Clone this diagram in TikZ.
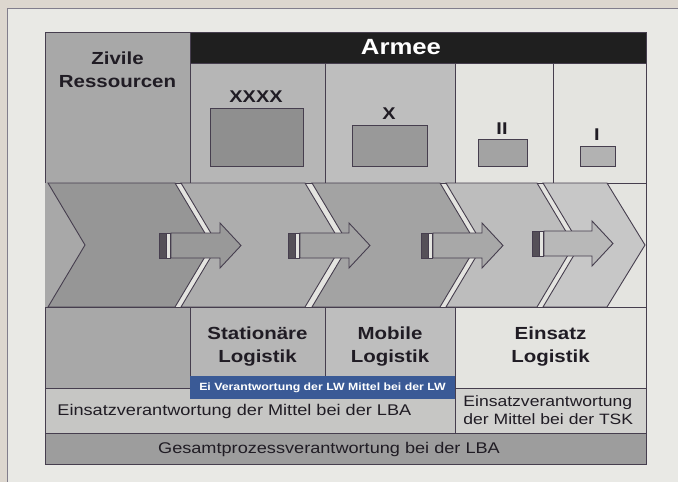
\documentclass[tikz,border=0pt]{standalone}
\usepackage{fontspec}
\setmainfont{Liberation Sans}[FakeStretch=1.17]
\definecolor{paper}{RGB}{221, 215, 207}
\definecolor{panel}{RGB}{233, 233, 229}
\definecolor{framegray}{RGB}{130, 126, 140}
\definecolor{edge}{RGB}{70, 62, 78}
\definecolor{ink}{RGB}{32, 28, 36}
\definecolor{civgray}{RGB}{168, 168, 168}
\definecolor{corpsgray}{RGB}{182, 182, 182}
\definecolor{brigray}{RGB}{190, 190, 190}
\definecolor{lightcol}{RGB}{228, 228, 224}
\definecolor{bandblue}{RGB}{58, 90, 150}
\definecolor{lbagray}{RGB}{198, 198, 196}
\definecolor{tskgray}{RGB}{210, 210, 207}
\definecolor{gesgray}{RGB}{157, 157, 157}
\definecolor{tailgray}{RGB}{85, 80, 88}
\usetikzlibrary{calc}

\begin{document}
\begin{tikzpicture}[x=1pt, y=-1pt, line width=0.9pt]
  \useasboundingbox (0,0) rectangle (678,482);

  % Page and panel
  \fill[paper] (0,0) rectangle (678,482);
  \fill[panel] (7,8) rectangle (678,482);
  \draw[framegray, line width=1pt] (678,8) -- (7,8) -- (7,482);

  % Top columns
  \filldraw[fill=civgray, draw=edge] (45,32) rectangle (190,183);
  \filldraw[fill=black!88, draw=edge] (190,32) rectangle (646,63);
  \filldraw[fill=corpsgray, draw=edge] (190,63) rectangle (325,183);
  \filldraw[fill=brigray, draw=edge] (325,63) rectangle (455,183);
  \filldraw[fill=lightcol, draw=edge] (455,63) rectangle (553,183);
  \filldraw[fill=lightcol, draw=edge] (553,63) rectangle (646,183);

  \node[font=\fontsize{22}{24}\selectfont\bfseries, text=white] (armee) at (401,47) {Armee};
  \node[font=\fontsize{17.5}{23}\selectfont\bfseries, text=ink, align=center] (zivile) at (117.5,70) {Zivile\\Ressourcen};

  % Unit symbols
  \node[font=\fontsize{17}{20}\selectfont\bfseries, text=ink] (xxxx) at (256,97) {XXXX};
  \filldraw[fill=black!44, draw=edge] (210,108) rectangle (303,166);
  \node[font=\fontsize{17}{20}\selectfont\bfseries, text=ink] (x) at (389,113.5) {X};
  \filldraw[fill=black!40, draw=edge] (352,125) rectangle (427,166);
  \node[font=\fontsize{17}{20}\selectfont\bfseries, text=ink] (ii) at (502,128.5) {II};
  \filldraw[fill=black!36, draw=edge] (478,139) rectangle (527,166);
  \node[font=\fontsize{17}{20}\selectfont\bfseries, text=ink] (i) at (597,135) {I};
  \filldraw[fill=black!30, draw=edge] (580,146) rectangle (615,166);

  % Process chevrons
  \filldraw[fill=lightcol, draw=edge] (45,183) rectangle (646,307);
  \fill[civgray] (45,183) -- (48,183) -- (85,245) -- (48,307) -- (45,307) -- cycle;
  \filldraw[fill=black!41, draw=edge] (48,183) -- (175,183) -- (212,245) -- (175,307) -- (48,307) -- (85,245) -- cycle;
  \filldraw[fill=black!32, draw=edge] (181,183) -- (305,183) -- (342,245) -- (305,307) -- (181,307) -- (218,245) -- cycle;
  \filldraw[fill=black!36, draw=edge] (312,183) -- (440,183) -- (477,245) -- (440,307) -- (312,307) -- (349,245) -- cycle;
  \filldraw[fill=black!26, draw=edge] (446,183) -- (537,183) -- (574,245) -- (537,307) -- (446,307) -- (483,245) -- cycle;
  \filldraw[fill=black!22, draw=edge] (543,183) -- (607,183) -- (645,245) -- (607,307) -- (543,307) -- (580,245) -- cycle;

  % Block arrows
  \filldraw[fill=tailgray, draw=edge, line width=0.6pt] (159,233) rectangle (166,258);
  \filldraw[fill=lightcol, draw=edge, line width=0.6pt] (166,233) rectangle (170,258);
  \filldraw[fill=black!40, draw=edge] (171,233) -- (220,233) -- (220,223) -- (241,245.5) -- (220,268) -- (220,258) -- (171,258) -- cycle;

  \filldraw[fill=tailgray, draw=edge, line width=0.6pt] (288,233) rectangle (295,258);
  \filldraw[fill=lightcol, draw=edge, line width=0.6pt] (295,233) rectangle (299,258);
  \filldraw[fill=black!36, draw=edge] (300,233) -- (349,233) -- (349,223) -- (370,245.5) -- (349,268) -- (349,258) -- (300,258) -- cycle;

  \filldraw[fill=tailgray, draw=edge, line width=0.6pt] (421,233) rectangle (428,258);
  \filldraw[fill=lightcol, draw=edge, line width=0.6pt] (428,233) rectangle (432,258);
  \filldraw[fill=black!34, draw=edge] (433,233) -- (482,233) -- (482,223) -- (503,245.5) -- (482,268) -- (482,258) -- (433,258) -- cycle;

  \filldraw[fill=tailgray, draw=edge, line width=0.6pt] (532,231) rectangle (539,256);
  \filldraw[fill=lightcol, draw=edge, line width=0.6pt] (539,231) rectangle (543,256);
  \filldraw[fill=black!28, draw=edge] (544,231) -- (592,231) -- (592,221) -- (613,243.5) -- (592,266) -- (592,256) -- (544,256) -- cycle;

  % Lower rows
  \filldraw[fill=civgray, draw=edge] (45,307) rectangle (190,388);
  \filldraw[fill=corpsgray, draw=edge] (190,307) rectangle (325,376);
  \filldraw[fill=brigray, draw=edge] (325,307) rectangle (455,376);
  \filldraw[fill=lightcol, draw=edge] (455,307) rectangle (646,388);
  \filldraw[fill=lbagray, draw=edge] (45,388) rectangle (455,433);
  \filldraw[fill=tskgray, draw=edge] (455,388) rectangle (646,433);
  \filldraw[fill=gesgray, draw=edge] (45,433) rectangle (646,464);
  \fill[bandblue] (190,376) rectangle (455,399);

  \node[font=\fontsize{17.5}{23}\selectfont\bfseries, text=ink, align=center] (stationaer) at (257.5,347) {Stationäre\\Logistik};
  \node[font=\fontsize{17.5}{23}\selectfont\bfseries, text=ink, align=center] (mobil) at (390,347) {Mobile\\Logistik};
  \node[font=\fontsize{17.5}{23}\selectfont\bfseries, text=ink, align=center] (einsatz) at (550.5,347) {Einsatz\\Logistik};
  \node[font=\fontsize{10.5}{12}\selectfont\bfseries, text=white] (lw) at (322.5,387.5) {Ei Verantwortung der LW Mittel bei der LW};
  \node[font=\fontsize{15.5}{18}\selectfont, text=ink, anchor=west, inner sep=0pt] (lba) at (57,411.5) {Einsatzverantwortung der Mittel bei der LBA};
  \node[font=\fontsize{15}{18}\selectfont, text=ink, align=left, anchor=west, inner sep=0pt] (tsk) at (463,410) {Einsatzverantwortung\\der Mittel bei der TSK};
  \node[font=\fontsize{15.5}{18}\selectfont, text=ink] (gesamt) at (329,449) {Gesamtprozessverantwortung bei der LBA};
\end{tikzpicture}
\end{document}
